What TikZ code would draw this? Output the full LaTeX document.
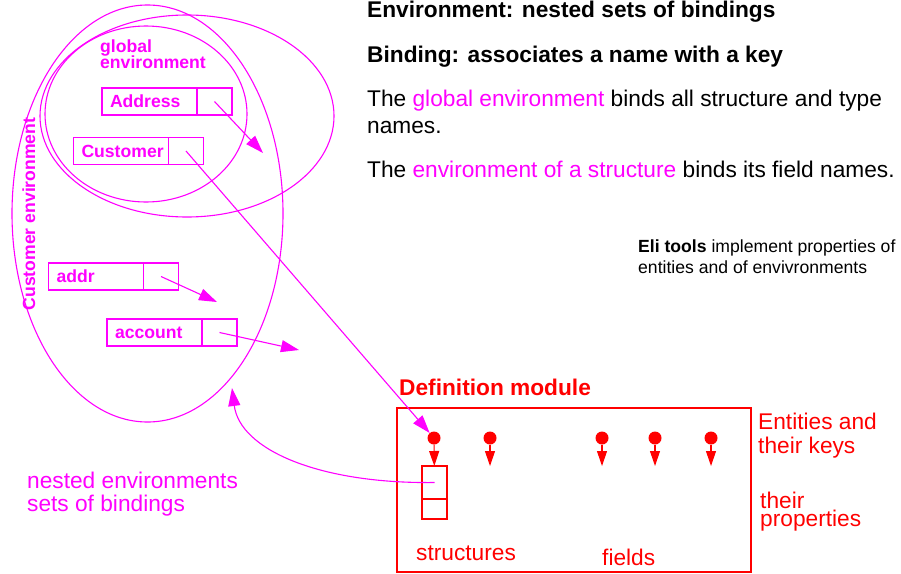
\documentclass[tikz,border=0pt]{standalone}
\usepackage{fontspec}
\setmainfont{Liberation Sans}
\usepackage{xcolor}
\usetikzlibrary{positioning,arrows.meta}

\definecolor{envcolor}{RGB}{255,0,255}
\definecolor{modcolor}{RGB}{255,0,0}

\begin{document}
\begin{tikzpicture}[x=1pt,y=-1pt,
  big/.style={font=\fontsize{22.7}{27}\selectfont, inner sep=0pt, anchor=base west},
  small/.style={font=\fontsize{17.6}{21}\selectfont, inner sep=0pt, anchor=base west},
  namebox/.style={draw=envcolor, line width=1.1pt, text=envcolor, font=\fontsize{17.6}{21}\selectfont\bfseries, minimum height=27pt, text width=79pt, inner xsep=8pt, inner ysep=0pt, align=left, outer sep=0pt},
  cellbox/.style={draw=envcolor, line width=1.1pt, minimum width=35pt, minimum height=27pt, inner sep=0pt, outer sep=0pt},
  magarrow/.style={draw=envcolor, line width=1.1pt, -{Triangle[length=18pt,width=12pt]}},
  keydot/.style={circle, fill=modcolor, minimum size=13pt, inner sep=0pt},
  keyarrow/.style={draw=modcolor, line width=1.1pt, -{Triangle[length=15pt,width=10pt]}},
  propbox/.style={draw=modcolor, line width=1.1pt, minimum width=25pt, inner sep=0pt, outer sep=0pt}]

\useasboundingbox (0,0) rectangle (901,573);

% nested environments
\draw[envcolor, line width=1.1pt] (147.5,213.5) ellipse [x radius=135.5pt, y radius=208.5pt];
\draw[envcolor, line width=1.1pt] (187,116) ellipse [x radius=147pt, y radius=101pt];
\draw[envcolor, line width=1.1pt] (146,114) ellipse [x radius=101pt, y radius=88pt];

\node[small, text=envcolor] (globlabel1) at (100,52) {\bfseries global};
\node[small, text=envcolor] (globlabel2) at (100,68) {\bfseries environment};
\node[small, text=envcolor, rotate=90, anchor=base] (custlabel) at (35,214) {\bfseries Customer environment};

% bindings
\node[namebox] (address) at (149.5,101.5) {Address};
\node[cellbox, right=0pt of address] (addresscell) {};
\node[namebox] (customer) at (121,151) {Customer};
\node[cellbox, right=0pt of customer] (customercell) {};
\node[namebox] (addr) at (96,276.5) {addr};
\node[cellbox, right=0pt of addr] (addrcell) {};
\node[namebox] (account) at (154.5,332.5) {account};
\node[cellbox, right=0pt of account] (accountcell) {};

\coordinate (addresstip) at (263,153);
\coordinate (addrtip) at (217,302);
\coordinate (accounttip) at (299,350);
\coordinate (envtip) at (232,388);

% definition module
\node[draw=modcolor, line width=1.1pt, minimum width=354pt, minimum height=164pt, inner sep=0pt] (defmod) at (574,490) {};
\node[big, text=modcolor] (deftitle) at (399,395) {\bfseries Definition module};

\foreach \x [count=\i] in {434,490,602,655,711}
	\node[keydot] (key\i) at (\x,438) {};
\foreach \i in {2,...,5}
	\draw[keyarrow] (key\i) -- ++(0,28);

\node[propbox, minimum height=33pt] (proptop) at (434.5,482.5) {};
\node[propbox, minimum height=20pt, below=0pt of proptop] (propbot) {};
\draw[keyarrow] (key1) -- (proptop);

\draw[magarrow] (addresscell.center) -- (addresstip);
\draw[magarrow] (customercell.center) -- (key1);
\draw[magarrow] (addrcell.center) -- (addrtip);
\draw[magarrow] (accountcell.center) -- (accounttip);
\draw[magarrow] (proptop.center) .. controls (320,484) and (240,450) .. (envtip);

\node[big, text=modcolor] (entities1) at (758,429) {Entities and};
\node[big, text=modcolor] (entities2) at (758,453) {their keys};
\node[big, text=modcolor, font=\fontsize{22.7}{18}\selectfont, align=left, anchor=north west] (props) at (760,491.5) {their\\properties};
\node[big, text=modcolor] (structlabel) at (416,560) {structures};
\node[big, text=modcolor] (fieldlabel) at (602,565) {fields};

\node[big, text=envcolor] (nested1) at (27,488) {nested environments};
\node[big, text=envcolor] (nested2) at (27,511) {sets of bindings};

% explanations
\node[big] (envhead) at (367,17) {\bfseries Environment: nested sets of bindings};
\node[big] (bindhead) at (367,62) {\bfseries Binding: associates a name with a key};
\node[big] (globtxt1) at (367,106) {The \textcolor{envcolor}{global environment} binds all structure and type};
\node[big] (globtxt2) at (367,133) {names.};
\node[big] (structtxt) at (367,177) {The \textcolor{envcolor}{environment of a structure} binds its field names.};
\node[small] (elitxt1) at (638,252) {\textbf{Eli tools} implement properties of};
\node[small] (elitxt2) at (638,273) {entities and of envivronments};

\end{tikzpicture}
\end{document}
